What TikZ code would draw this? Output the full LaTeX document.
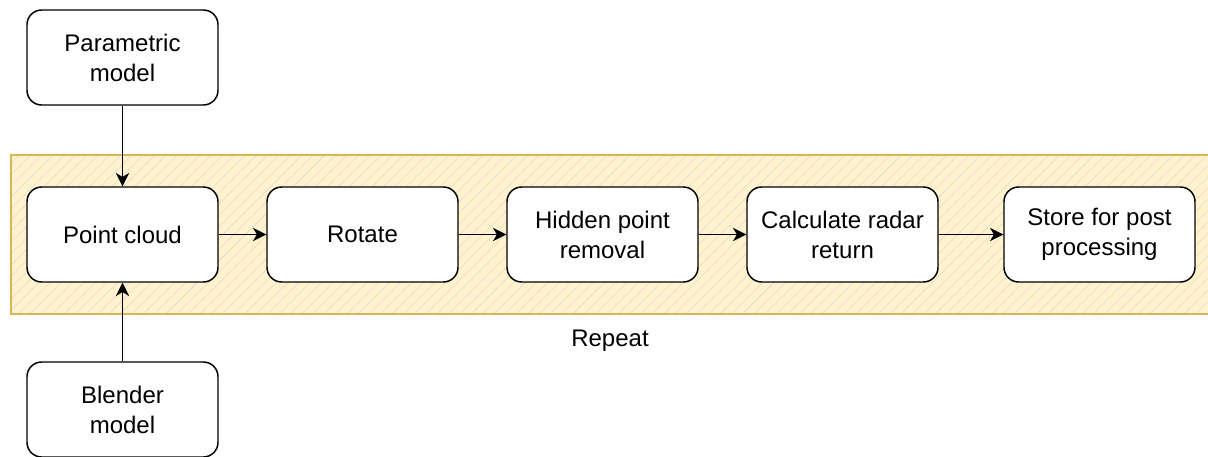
\documentclass[tikz,border=0pt]{standalone}
\usepackage{fontspec}
\setmainfont{Liberation Sans}
\usetikzlibrary{arrows.meta,patterns.meta}

\definecolor{bandfill}{HTML}{FFF2CC}
\definecolor{bandline}{HTML}{D6B656}
\definecolor{hatch}{HTML}{D9D9D9}

\begin{document}
\begin{tikzpicture}
  [x=0.75pt,y=-0.75pt,
   block/.style={shape=rectangle, draw=black, fill=white, line width=1.1pt,
     rounded corners=11pt, minimum width=143.25pt, minimum height=71.25pt,
     inner sep=0pt, align=center, font=\fontsize{18}{22.5}\selectfont},
   flow/.style={-{Stealth[length=10pt,width=10pt,inset=3pt]}, line width=1.1pt}]

\useasboundingbox (0,0) rectangle (1208,457);

% repeat band
\fill [bandfill] (11,155) rectangle (1215,314);
\fill [pattern={Lines[angle=45,distance=6pt,line width=0.4pt]}, pattern color=hatch]
  (11,155) rectangle (1215,314);
\draw [bandline, line width=1.1pt] (11,155) rectangle (1215,314);

\begin{scope}
  \coordinate (PM) at (122.5,57.5);
  \coordinate (PC) at (122.5,234.5);
  \coordinate (RO) at (362.5,234.5);
  \coordinate (HP) at (602.5,234.5);
  \coordinate (CR) at (842.5,234.5);
  \coordinate (SP) at (1099.5,234.5);
  \coordinate (BM) at (122.5,409.5);

  \node (param)  at (PM) [block] {Parametric\\model};
  \node (cloud)  at (PC) [block] {Point cloud};
  \node (rotate) at (RO) [block] {Rotate};
  \node (hidden) at (HP) [block] {Hidden point\\removal};
  \node (radar)  at (CR) [block] {Calculate radar\\return};
  \node (store)  at (SP) [block] {Store for post\\processing};
  \node (blend)  at (BM) [block] {Blender\\model};
\end{scope}

\node (repeat) at (610,341) {\fontsize{18}{22.5}\selectfont Repeat};

\draw [flow] (param) -- (cloud);
\draw [flow] (blend) -- (cloud);
\draw [flow] (cloud) -- (rotate);
\draw [flow] (rotate) -- (hidden);
\draw [flow] (hidden) -- (radar);
\draw [flow] (radar) -- (store);

\end{tikzpicture}
\end{document}
